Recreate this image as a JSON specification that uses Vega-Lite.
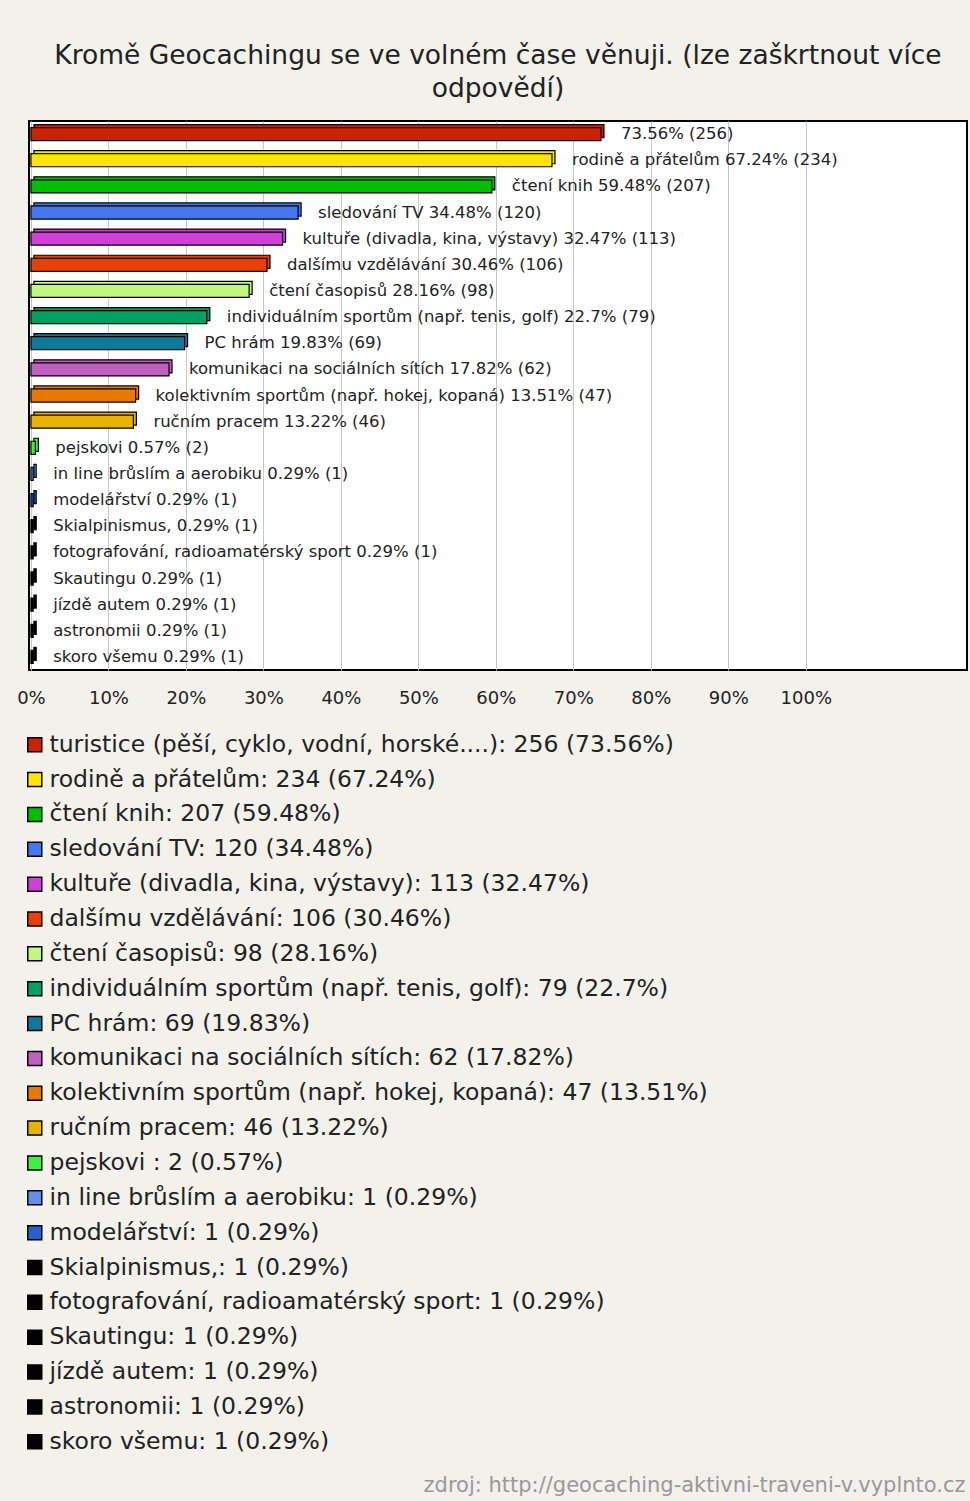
{
  "$schema": "https://vega.github.io/schema/vega-lite/v6.json",
  "width": 938,
  "height": 549,
  "autosize": {"type": "none"},
  "padding": {"left": 29, "top": 121, "right": 3, "bottom": 831},
  "background": "#f2f1eb",
  "title": {
    "text": ["Kromě Geocachingu se ve volném čase věnuji. (lze zaškrtnout více", "odpovědí)"],
    "font": "DejaVu Sans",
    "fontSize": 26.5,
    "fontWeight": "normal",
    "color": "#222222",
    "anchor": "middle",
    "lineHeight": 33,
    "offset": 19
  },
  "config": {
    "view": {"fill": "#ffffff", "stroke": "#000000", "strokeWidth": 2},
    "text": {"font": "DejaVu Sans"}
  },
  "data": {
    "values": [
      {"name": "turistice", "pct": 73.56, "label": "73.56% (256)", "legend": "turistice (pěší, cyklo, vodní, horské....): 256 (73.56%)"},
      {"name": "rodině a přátelům", "pct": 67.24, "label": "rodině a přátelům 67.24% (234)", "legend": "rodině a přátelům: 234 (67.24%)"},
      {"name": "čtení knih", "pct": 59.48, "label": "čtení knih 59.48% (207)", "legend": "čtení knih: 207 (59.48%)"},
      {"name": "sledování TV", "pct": 34.48, "label": "sledování TV 34.48% (120)", "legend": "sledování TV: 120 (34.48%)"},
      {"name": "kultuře", "pct": 32.47, "label": "kultuře (divadla, kina, výstavy) 32.47% (113)", "legend": "kultuře (divadla, kina, výstavy): 113 (32.47%)"},
      {"name": "dalšímu vzdělávání", "pct": 30.46, "label": "dalšímu vzdělávání 30.46% (106)", "legend": "dalšímu vzdělávání: 106 (30.46%)"},
      {"name": "čtení časopisů", "pct": 28.16, "label": "čtení časopisů 28.16% (98)", "legend": "čtení časopisů: 98 (28.16%)"},
      {"name": "individuálním sportům", "pct": 22.7, "label": "individuálním sportům (např. tenis, golf) 22.7% (79)", "legend": "individuálním sportům (např. tenis, golf): 79 (22.7%)"},
      {"name": "PC hrám", "pct": 19.83, "label": "PC hrám 19.83% (69)", "legend": "PC hrám: 69 (19.83%)"},
      {"name": "komunikaci", "pct": 17.82, "label": "komunikaci na sociálních sítích 17.82% (62)", "legend": "komunikaci na sociálních sítích: 62 (17.82%)"},
      {"name": "kolektivním sportům", "pct": 13.51, "label": "kolektivním sportům (např. hokej, kopaná) 13.51% (47)", "legend": "kolektivním sportům (např. hokej, kopaná): 47 (13.51%)"},
      {"name": "ručním pracem", "pct": 13.22, "label": "ručním pracem 13.22% (46)", "legend": "ručním pracem: 46 (13.22%)"},
      {"name": "pejskovi", "pct": 0.57, "label": "pejskovi  0.57% (2)", "legend": "pejskovi : 2 (0.57%)"},
      {"name": "in line", "pct": 0.29, "label": "in line brůslím a aerobiku 0.29% (1)", "legend": "in line brůslím a aerobiku: 1 (0.29%)"},
      {"name": "modelářství", "pct": 0.29, "label": "modelářství 0.29% (1)", "legend": "modelářství: 1 (0.29%)"},
      {"name": "Skialpinismus", "pct": 0.29, "label": "Skialpinismus, 0.29% (1)", "legend": "Skialpinismus,: 1 (0.29%)"},
      {"name": "fotografování", "pct": 0.29, "label": "fotografování, radioamatérský sport 0.29% (1)", "legend": "fotografování, radioamatérský sport: 1 (0.29%)"},
      {"name": "Skautingu", "pct": 0.29, "label": "Skautingu 0.29% (1)", "legend": "Skautingu: 1 (0.29%)"},
      {"name": "jízdě autem", "pct": 0.29, "label": "jízdě autem 0.29% (1)", "legend": "jízdě autem: 1 (0.29%)"},
      {"name": "astronomii", "pct": 0.29, "label": "astronomii 0.29% (1)", "legend": "astronomii: 1 (0.29%)"},
      {"name": "skoro všemu", "pct": 0.29, "label": "skoro všemu 0.29% (1)", "legend": "skoro všemu: 1 (0.29%)"}
    ]
  },
  "encoding": {
    "y": {"field": "name", "type": "nominal", "sort": null, "axis": null,
          "scale": {"paddingInner": 0.5, "paddingOuter": 0.25}},
    "x": {"field": "pct", "type": "quantitative",
          "scale": {"domain": [-0.25, 120.8], "nice": false, "zero": false},
          "axis": {
            "values": [0, 10, 20, 30, 40, 50, 60, 70, 80, 90, 100],
            "labelExpr": "datum.value + '%'",
            "grid": true, "gridColor": "#c8c8c8", "gridWidth": 1,
            "domain": false, "ticks": false,
            "labelFlush": true, "labelPadding": 19,
            "labelFont": "DejaVu Sans", "labelFontSize": 18, "labelColor": "#222222",
            "title": "zdroj: http://geocaching-aktivni-traveni-v.vyplnto.cz",
            "titleFont": "DejaVu Sans", "titleFontSize": 21, "titleFontWeight": "normal",
            "titleColor": "#999999", "titleAlign": "right", "titleAnchor": null,
            "titleX": 936, "titleY": 815, "titleBaseline": "middle"
          }}
  },
  "layer": [
    {
      "mark": {"type": "bar", "xOffset": 3, "yOffset": -3, "stroke": "#000000", "strokeWidth": 1.2},
      "encoding": {
        "color": {"field": "legend", "type": "nominal", "sort": null,
                  "scale": {"range": ["#cc2200", "#ffe400", "#00c000", "#4477ee", "#d040d8", "#e84000", "#c0f880", "#00a060", "#107898", "#c060c0", "#e87800", "#e8b400", "#40f040", "#6090e8", "#2860d0", "#000000", "#000000", "#000000", "#000000", "#000000", "#000000"]},
                  "legend": {
                    "orient": "none", "legendX": -6, "legendY": 612, "direction": "vertical", "columns": 1,
                    "title": null, "padding": 0,
                    "symbolType": "square", "symbolSize": 196, "symbolStrokeColor": "#000000", "symbolStrokeWidth": 1.5,
                    "symbolOpacity": 1,
                    "labelFont": "DejaVu Sans", "labelFontSize": 23.5, "labelColor": "#222222", "labelOffset": 3,
                    "labelLimit": 0, "rowPadding": 9.85
                  }}
      }
    },
    {
      "mark": {"type": "bar", "stroke": "#000000", "strokeWidth": 1.2},
      "encoding": {
        "color": {"field": "legend", "type": "nominal", "sort": null}
      }
    },
    {
      "mark": {"type": "text", "align": "left", "baseline": "middle", "dx": 20, "fontSize": 16.5, "color": "#222222"},
      "encoding": {"text": {"field": "label"}}
    }
  ]
}
